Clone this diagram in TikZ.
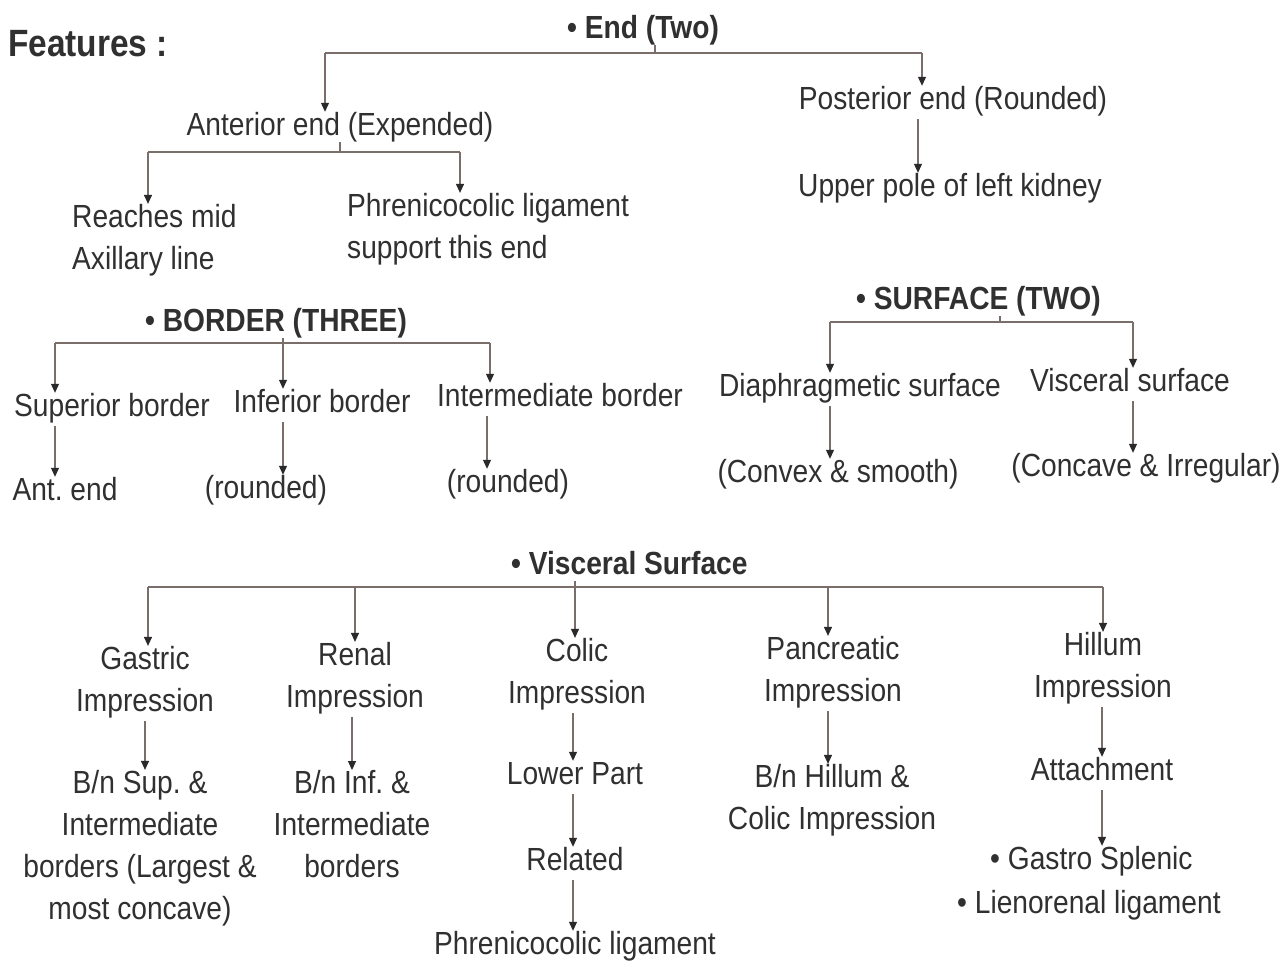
\documentclass[tikz,border=0pt]{standalone}
\usepackage{fontspec}
\setmainfont{Liberation Sans}[FakeStretch=0.88]
\usetikzlibrary{arrows.meta}
\definecolor{txt}{HTML}{303030}
\definecolor{ln}{HTML}{7A6E6A}
\definecolor{tipc}{HTML}{2A2A2A}
\frenchspacing
\begin{document}
\begin{tikzpicture}[x=1pt,y=-1pt,
  font=\fontsize{32}{42}\selectfont,
  every node/.style={text=txt},
  lbl/.style={inner sep=0pt, text height=23pt, text depth=7pt},
  ml/.style={inner sep=0pt, align=center},
  head/.style={inner sep=0pt, anchor=west, text height=23pt, text depth=7pt, font=\fontsize{32}{42}\selectfont\bfseries},
  bar/.style={draw=ln, line width=1.1pt},
  arr/.style={draw=ln, line width=1.1pt, -{Triangle[length=9pt,width=8pt,color=tipc]}},
  arrs/.style={arr, shorten <=3pt}]
\fill[white] (0,0) rectangle (1287,977);
\path[use as bounding box] (0,0) rectangle (1287,977);

% ---- Ends ----
\node[head, font=\fontsize{38}{44}\selectfont\bfseries, text height=27pt] (feat) at (8,46) {Features :};
\node[head] (endh) at (567,30) {• End (Two)};
\node[lbl] (ant) at (340,127) {Anterior end (Expended)};
\node[lbl] (post) at (953,101) {Posterior end (Rounded)};
\coordinate (e0) at (655,53);
\coordinate (e1) at (325,53);
\coordinate (e2) at (922,53);
\draw[bar] (e0 |- endh.south) -- (e0);
\draw[bar] (e1) -- (e2);
\draw[arr] (e1) -- (e1 |- ant.north);
\draw[arr] (e2) -- (e2 |- post.north);

\node[ml, anchor=west, align=left] (reach) at (72,240) {Reaches mid\\Axillary line};
\node[ml, anchor=west, align=left] (phr1) at (347,229) {Phrenicocolic ligament\\support this end};
\coordinate (a0) at (340,152);
\coordinate (a1) at (148,152);
\coordinate (a2) at (460,152);
\draw[bar] (a0 |- ant.south) -- (a0);
\draw[bar] (a1) -- (a2);
\draw[arr] (a1) -- (a1 |- reach.north);
\draw[arr] (a2) -- (a2 |- phr1.north);

\node[lbl] (upper) at (950,188) {Upper pole of left kidney};
\coordinate (p1) at (918,0);
\draw[arrs] (p1 |- post.south) -- (p1 |- upper.north);

% ---- Borders ----
\node[head] (bord) at (145,323) {• BORDER (THREE)};
\coordinate (b0) at (283,343);
\coordinate (b1) at (55,343);
\coordinate (b2) at (490,343);
\draw[bar] (b0 |- bord.south) -- (b0);
\draw[bar] (b1) -- (b2);
\node[lbl] (sup) at (112,408) {Superior border};
\node[lbl] (inf) at (322,404) {Inferior border};
\node[lbl] (intm) at (560,398) {Intermediate border};
\draw[arr] (b1) -- (b1 |- sup.north);
\draw[arr] (b0) -- (b0 |- inf.north);
\draw[arr] (b2) -- (b2 |- intm.north);
\node[lbl] (antend) at (65,492) {Ant. end};
\node[lbl] (rnd1) at (266,490) {(rounded)};
\node[lbl] (rnd2) at (508,484) {(rounded)};
\coordinate (b3) at (487,0);
\draw[arrs] (b1 |- sup.south) -- (b1 |- antend.north);
\draw[arrs] (b0 |- inf.south) -- (b0 |- rnd1.north);
\draw[arrs] (b3 |- intm.south) -- (b3 |- rnd2.north);

% ---- Surfaces ----
\node[head] (surf) at (856,301) {• SURFACE (TWO)};
\coordinate (s0) at (1000,322);
\coordinate (s1) at (830,322);
\coordinate (s2) at (1133,322);
\draw[bar] (s0 |- surf.south) -- (s0);
\draw[bar] (s1) -- (s2);
\node[lbl] (diaph) at (860,388) {Diaphragmetic surface};
\node[lbl] (visc) at (1130,383) {Visceral surface};
\draw[arr] (s1) -- (s1 |- diaph.north);
\draw[arr] (s2) -- (s2 |- visc.north);
\node[lbl] (convex) at (838,474) {(Convex \& smooth)};
\node[lbl] (concave) at (1146,468) {(Concave \& Irregular)};
\draw[arrs] (s1 |- diaph.south) -- (s1 |- convex.north);
\draw[arrs] (s2 |- visc.south) -- (s2 |- concave.north);

% ---- Visceral surface ----
\node[head] (vsh) at (511,566) {• Visceral Surface};
\coordinate (v0) at (575,587);
\coordinate (v1) at (148,587);
\coordinate (v2) at (355,587);
\coordinate (v4) at (828,587);
\coordinate (v5) at (1103,587);
\draw[bar] (v0 |- vsh.south) -- (v0);
\draw[bar] (v1) -- (v5);
\node[ml] (gas) at (145,682) {Gastric\\Impression};
\node[ml] (ren) at (355,678) {Renal\\Impression};
\node[ml] (col) at (577,674) {Colic\\Impression};
\node[ml] (pan) at (833,672) {Pancreatic\\Impression};
\node[ml] (hil) at (1103,668) {Hillum\\Impression};
\draw[arr] (v1) -- (v1 |- gas.north);
\draw[arr] (v2) -- (v2 |- ren.north);
\draw[arr] (v0) -- (v0 |- col.north);
\draw[arr] (v4) -- (v4 |- pan.north);
\draw[arr] (v5) -- (v5 |- hil.north);

\node[ml] (gbn) at (140,848) {B/n Sup. \&\\Intermediate\\borders (Largest \&\\most concave)};
\node[ml] (rbn) at (352,824) {B/n Inf. \&\\Intermediate\\borders};
\node[lbl] (lower) at (575,776) {Lower Part};
\node[lbl] (related) at (575,862) {Related};
\node[lbl] (phr2) at (575,946) {Phrenicocolic ligament};
\node[ml] (pbn) at (832,800) {B/n Hillum \&\\Colic Impression};
\node[lbl] (attach) at (1102,772) {Attachment};
\node[lbl, anchor=west] (gs) at (990,861) {• Gastro Splenic};
\node[lbl, anchor=west] (lien) at (957,905) {• Lienorenal ligament};

\coordinate (c1) at (145,0);
\coordinate (c2) at (352,0);
\coordinate (c3) at (573,0);
\coordinate (c4) at (828,0);
\coordinate (c5) at (1102,0);
\draw[arrs] (c1 |- gas.south) -- (c1 |- gbn.north);
\draw[arrs] (c2 |- ren.south) -- (c2 |- rbn.north);
\draw[arrs] (c3 |- col.south) -- (c3 |- lower.north);
\draw[arrs] (c3 |- lower.south) -- (c3 |- related.north);
\draw[arrs] (c3 |- related.south) -- (c3 |- phr2.north);
\draw[arrs] (c4 |- pan.south) -- (c4 |- pbn.north);
\draw[arrs] (c5 |- hil.south) -- (c5 |- attach.north);
\draw[arrs] (c5 |- attach.south) -- (c5 |- gs.north);
\end{tikzpicture}
\end{document}
